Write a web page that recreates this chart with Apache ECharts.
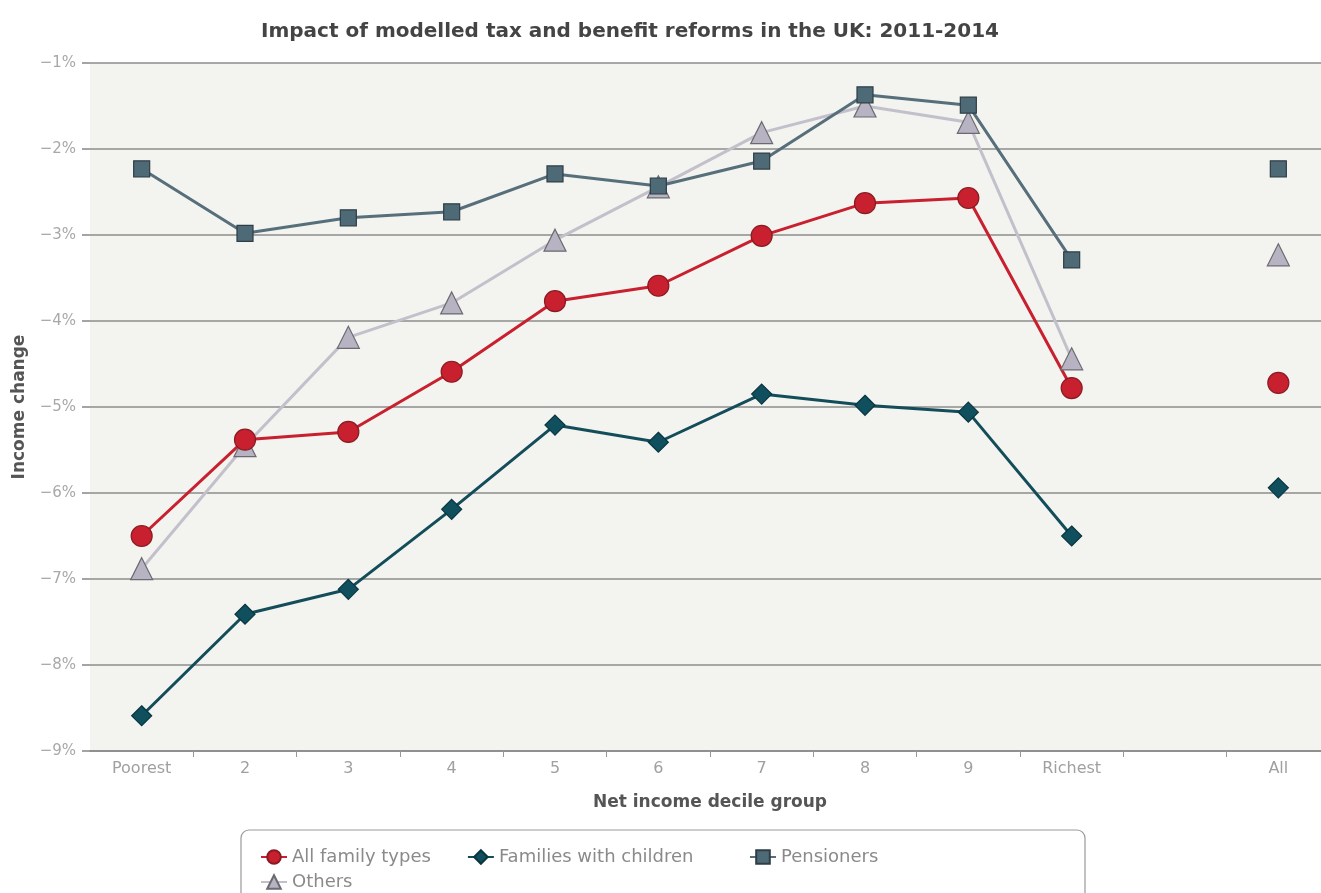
<!DOCTYPE html>
<html>
<head>
<meta charset="utf-8">
<script src="https://cdn.jsdelivr.net/npm/echarts@6/dist/echarts.min.js"></script>
<style>html,body{margin:0;padding:0;background:#fff;}#c{width:1321px;height:893px;}</style>
</head>
<body>
<div id="c"></div>
<script>
const categories = ['Poorest','2','3','4','5','6','7','8','9','Richest','','All'];
const allFamilyTypes = [-6.50,-5.38,-5.29,-4.59,-3.77,-3.59,-3.01,-2.63,-2.57,-4.78,null,-4.72];
const familiesWithChildren = [-8.59,-7.41,-7.12,-6.19,-5.21,-5.41,-4.85,-4.98,-5.06,-6.50,null,-5.94];
const pensioners = [-2.23,-2.98,-2.80,-2.73,-2.29,-2.43,-2.14,-1.37,-1.49,-3.29,null,-2.23];
const others = [-6.88,-5.45,-4.19,-3.79,-3.06,-2.44,-1.81,-1.50,-1.69,-4.44,null,-3.23];
const yTicks = {min:-9, max:-1, interval:1};

const chart = echarts.init(document.getElementById('c'));
const font = 'DejaVu Sans, sans-serif';
function lineSeries(name, data, color, lineColor, symbol, size, border) {
  return {
    name, type:'line', data, symbol, symbolSize:size, connectNulls:false,
    lineStyle:{color:lineColor, width:3},
    itemStyle:{color, borderColor:border, borderWidth:1.2},
    emphasis:{disabled:true}, z: 3
  };
}
const legendText = {fontFamily:font, fontSize:18, color:'#8a8a8a'};
const legendBase = {itemWidth:26, itemHeight:17, textStyle:legendText, itemGap:36};
chart.setOption({
  animation:false,
  title:{text:'Impact of modelled tax and benefit reforms in the UK: 2011-2014', left:256, top:17,
    textStyle:{fontFamily:font, fontWeight:'bold', fontSize:20, color:'#444'}},
  grid:{left:90, right:-9, top:63, bottom:142, show:true, backgroundColor:'#f3f3ef', borderWidth:0,
    outerBoundsMode:'none', containLabel:false},
  xAxis:{type:'category', data:categories, boundaryGap:true,
    name:'Net income decile group', nameLocation:'middle', nameGap:43,
    nameTextStyle:{fontFamily:font, fontWeight:'bold', fontSize:17, color:'#555'},
    axisLine:{lineStyle:{color:'#888', width:1.5}},
    axisTick:{show:true, length:6, lineStyle:{color:'#999'}, interval: (i) => i !== 0},
    axisLabel:{fontFamily:font, fontSize:16, color:'#a0a0a0', margin:10}},
  yAxis:{type:'value', min:yTicks.min, max:yTicks.max, interval:yTicks.interval,
    name:'Income change', nameLocation:'middle', nameGap:62, nameRotate:90,
    nameTextStyle:{fontFamily:font, fontWeight:'bold', fontSize:17, color:'#555'},
    axisLine:{show:false},
    axisTick:{show:true, length:8, lineStyle:{color:'#888', width:1.5}},
    splitLine:{lineStyle:{color:'#8c8c8c', width:1.5}},
    axisLabel:{fontFamily:font, fontSize:15, color:'#a8a8a8', margin:14,
      formatter: v => '\u2212' + Math.abs(v) + '%'}},
  legend:[
    Object.assign({data:['All family types','Families with children'], left:255, top:843}, legendBase),
    Object.assign({data:['Pensioners'], left:744, top:843}, legendBase),
    Object.assign({data:['Others'], left:255, top:868}, legendBase)
  ],
  graphic:[{type:'rect', shape:{x:241, y:830, width:844, height:80, r:8}, style:{fill:'none', stroke:'#999', lineWidth:1.2}, z:-1}],
  series:[
    lineSeries('Others', others, '#b7b3c3', '#c3c0cb', 'triangle', 22, '#6a6a70'),
    lineSeries('Pensioners', pensioners, '#4e6a77', '#566f7a', 'rect', 16, '#2e3e46'),
    lineSeries('Families with children', familiesWithChildren, '#0f4f5e', '#134d5a', 'diamond', 20, '#0a3640'),
    lineSeries('All family types', allFamilyTypes, '#c8202e', '#c8202e', 'circle', 21, '#8a1a22')
  ]
});
</script>
</body>
</html>
